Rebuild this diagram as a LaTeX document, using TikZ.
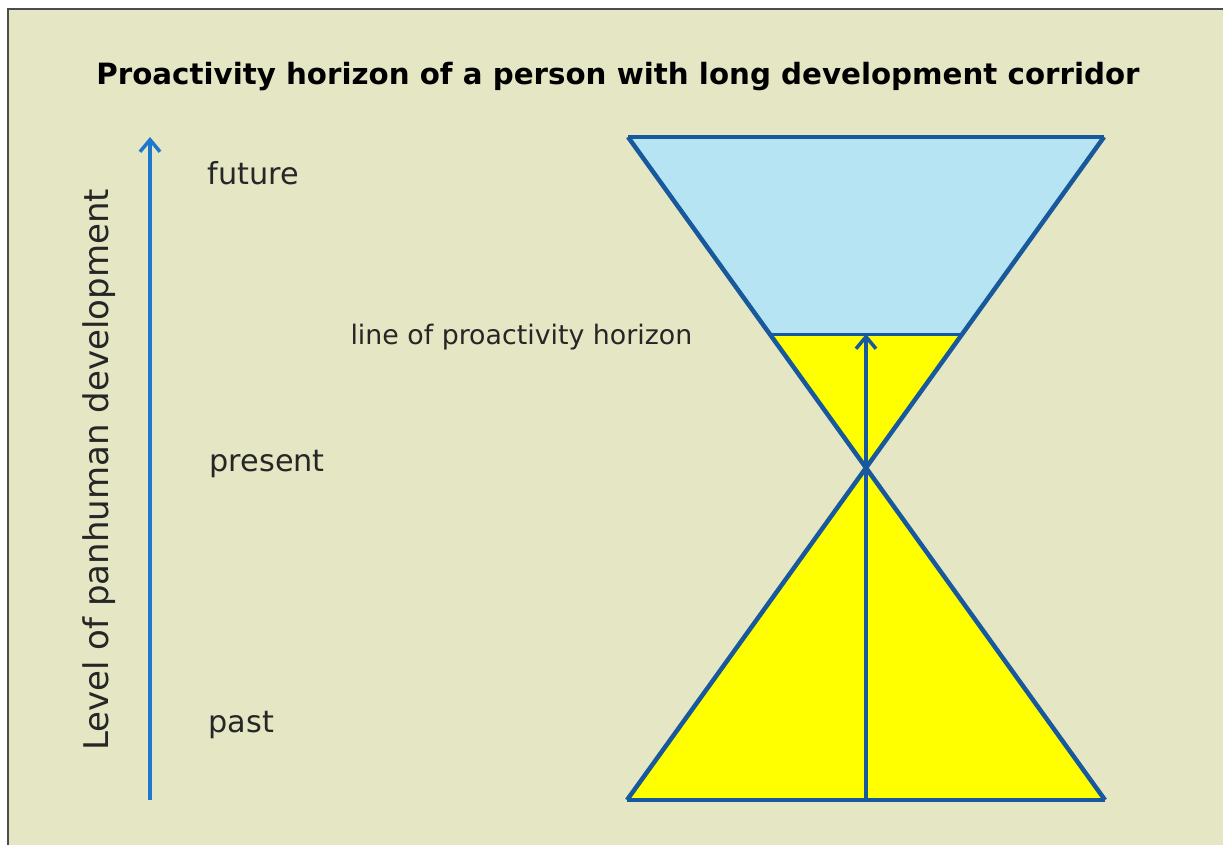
\documentclass[tikz,border=0pt]{standalone}
\usepackage{fontspec}
\setmainfont{DejaVu Sans}
\usetikzlibrary{arrows.meta}
\definecolor{paper}{RGB}{229,230,196}
\definecolor{skyfill}{RGB}{182,228,242}
\definecolor{conefill}{RGB}{255,255,0}
\definecolor{edgeblue}{RGB}{24,88,156}
\definecolor{axisblue}{RGB}{30,120,205}

\begin{document}
\begin{tikzpicture}[
    x=1pt, y=-1pt,
    edge/.style={draw=edgeblue, line width=4.5pt, line join=miter},
    arr/.style={-{Straight Barb[length=12pt,width=20pt]}, line width=3.5pt},
    lvl/.style={anchor=base west, font=\fontsize{30.3}{35}\selectfont, text=black!85},
    ttl/.style={anchor=base, font=\fontsize{29.3}{34}\selectfont\bfseries}
]
% Frame and background
\useasboundingbox (0,0) rectangle (1223,845);
\fill[white] (0,0) rectangle (1223,845);
\fill[paper] (8,9) rectangle (1223,845);
\draw[black!70, line width=1.2pt] (8,845) -- (8,9) -- (1223,9);
% Title
\node[ttl] (title) at (618,85) {Proactivity horizon of a person with long development corridor};
% Axis
\coordinate (axlo) at (150,800);
\coordinate (axhi) at (150,137);
\draw[arr, axisblue] (axlo) -- (axhi);
\node[rotate=90, font=\fontsize{34}{38}\selectfont, text=black!85] (axlabel) at (99,470) {Level of panhuman development};
\node[lvl] (future) at (204,185) {future};
\node[lvl] (present) at (206,471) {present};
\node[lvl] (past) at (205,732) {past};
% Corridor corners
\coordinate (tl) at (628,137);
\coordinate (tr) at (1104,137);
\coordinate (apex) at (866,466);
\coordinate (bl) at (627,800);
\coordinate (br) at (1105,800);
\coordinate (hl) at (770.5,334);
\coordinate (hr) at (961.5,334);
\coordinate (hm) at (866,334);
\coordinate (bm) at (866,800);
% Fills
\fill[skyfill] (tl) -- (tr) -- (hr) -- (hl) -- cycle;
\fill[conefill] (hl) -- (hr) -- (apex) -- cycle;
\fill[conefill] (bl) -- (br) -- (apex) -- cycle;
% Outline
\draw[edge] (tl) -- (tr);
\draw[edge] (tl) -- (br);
\draw[edge] (tr) -- (bl);
\draw[edge, line width=3pt] (hl) -- (hr);
\draw[edge] (bl) -- (br);
% Horizon arrow
\draw[arr, edgeblue] (bm) -- (hm);
\node[anchor=base west, font=\fontsize{26.8}{31}\selectfont, text=black!85] (horizon) at (347,344) {line of proactivity horizon};
\end{tikzpicture}
\end{document}
